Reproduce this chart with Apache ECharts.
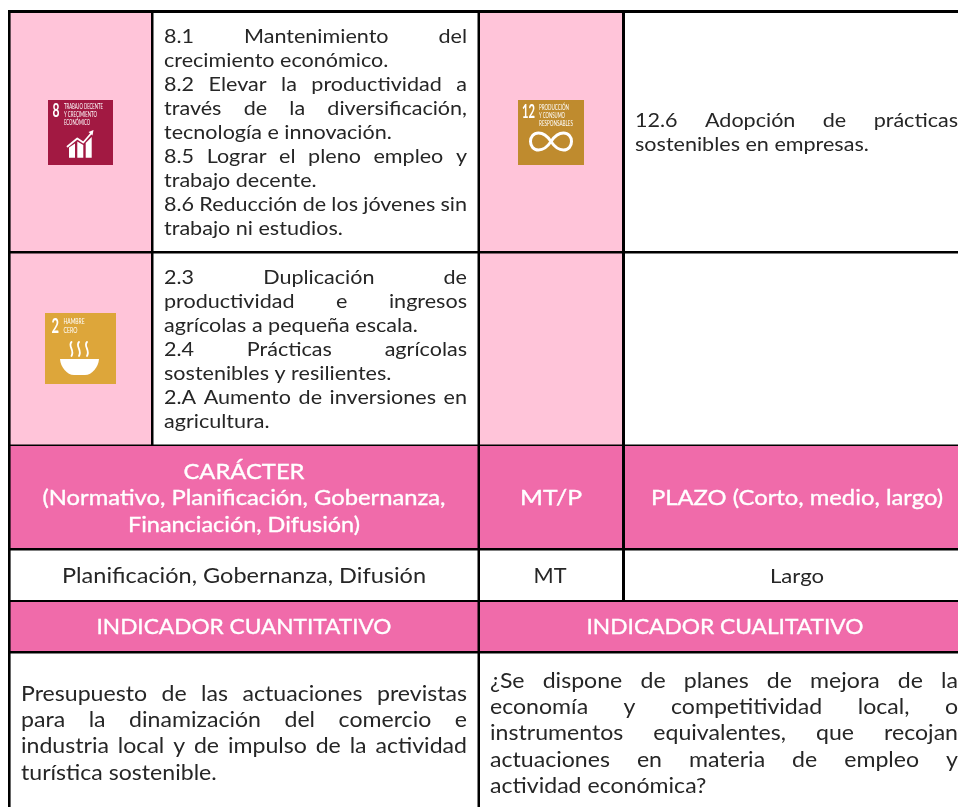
<!DOCTYPE html>
<html><head><meta charset="utf-8">
<script src="https://cdn.jsdelivr.net/npm/echarts@6/dist/echarts.min.js"></script>
<style>html,body{margin:0;padding:0;background:#fff}#c{width:958px;height:807px}</style></head>
<body><div id="c"></div>
<script>
// ---- table content ----
const goal8Targets = ["8.1 Mantenimiento del","crecimiento económico.","8.2 Elevar la productividad a","través de la diversificación,","tecnología e innovación.","8.5 Lograr el pleno empleo y","trabajo decente.","8.6 Reducción de los jóvenes sin","trabajo ni estudios."];
const goal12Targets = ["12.6 Adopción de prácticas","sostenibles en empresas."];
const goal2Targets = ["2.3 Duplicación de","productividad e ingresos","agrícolas a pequeña escala.","2.4 Prácticas agrícolas","sostenibles y resilientes.","2.A Aumento de inversiones en","agricultura."];
const caracterHeader = ["CARÁCTER","(Normativo, Planificación, Gobernanza,","Financiación, Difusión)"];
const mtHeader = ["MT/P"];
const plazoHeader = ["PLAZO (Corto, medio, largo)"];
const caracterValue = ["Planificación, Gobernanza, Difusión"];
const mtValue = ["MT"];
const plazoValue = ["Largo"];
const cuantHeader = ["INDICADOR CUANTITATIVO"];
const cualHeader = ["INDICADOR CUALITATIVO"];
const cuantText = ["Presupuesto de las actuaciones previstas","para la dinamización del comercio e","industria local y de impulso de la actividad","turística sostenible."];
const cualText = ["¿Se dispone de planes de mejora de la","economía y competitividad local, o","instrumentos equivalentes, que recojan","actuaciones en materia de empleo y","actividad económica?"];
const ragged = new Set(["crecimiento económico.","tecnología e innovación.","trabajo decente.","trabajo ni estudios.","sostenibles en empresas.","agrícolas a pequeña escala.","sostenibles y resilientes.","agricultura.","turística sostenible.","actividad económica?"]);

// ---- styling ----
const LIGHT='#FFC4D9', DARK='#F06BAA', INK='#262626', FONT='Lato';
const GOAL_RED='#A21942', GOAL_OCHRE='#BF8B2E', GOAL_YELLOW='#DDA63A';

// cells: x0,y0,x1,y1,colour
const cells = [
 [8,10,958,807,'#000'],
 [10.6,13,151,251,LIGHT],[153.5,13,477.5,251,'#fff'],[480,13,622,251,LIGHT],[625,13,958,251,'#fff'],
 [10.6,253.5,151,444.5,LIGHT],[153.5,253.5,477.5,444.5,'#fff'],[480,253.5,622,444.5,LIGHT],[625,253.5,958,444.5,'#fff'],
 [10.6,446,477.5,548,DARK],[480,446,622,548,DARK],[625,446,958,548,DARK],
 [10.6,550.5,477.5,600,'#fff'],[480,550.5,622,600,'#fff'],[625,550.5,958,600,'#fff'],
 [10.6,602,477.5,651,DARK],[480,602,958,651,DARK],
 [10.6,653.5,477.5,807,'#fff'],[480,653.5,958,807,'#fff'],
 [48,100,113,165,GOAL_RED],[518,100,584,165,GOAL_OCHRE],[45,313,116,384,GOAL_YELLOW]
];

// text blocks: lines, left, right (justify) or centre, first y, pitch, size, colour
const blocks = [
 {lines:goal8Targets,x0:164,x1:467,y:36.8,dy:24,size:19.5,fill:INK,k:1.105},
 {lines:goal12Targets,x0:635,x1:958,y:120.8,dy:24,size:19.5,fill:INK,k:1.105},
 {lines:goal2Targets,x0:164,x1:467,y:277.8,dy:24,size:19.5,fill:INK,k:1.105},
 {lines:caracterHeader,cx:244,y:472,dy:26.5,size:21.5,fill:'#fff',fit:[121,403,232]},
 {lines:mtHeader,cx:551,y:498,dy:0,size:21.5,fill:'#fff',fit:[62]},
 {lines:plazoHeader,cx:797,y:498,dy:0,size:21.5,fill:'#fff',fit:[292]},
 {lines:caracterValue,cx:244,y:576.8,dy:0,size:20.5,fill:INK,fit:[364]},
 {lines:mtValue,cx:550,y:576.8,dy:0,size:20.5,fill:INK,fit:[33]},
 {lines:plazoValue,cx:797,y:576.8,dy:0,size:19,fill:INK,fit:[54]},
 {lines:cuantHeader,cx:244,y:627.5,dy:0,size:21.5,fill:'#fff',fit:[295]},
 {lines:cualHeader,cx:725,y:627.5,dy:0,size:21.5,fill:'#fff',fit:[277]},
 {lines:cuantText,x0:21,x1:467,y:693.8,dy:26.4,size:21,fill:INK,k:1.1},
 {lines:cualText,x0:490,x1:958,y:680.8,dy:26.4,size:21,fill:INK,k:1.1}
];

// small labels inside the goal tiles: text,x,y,size,weight,width
const tileLabels = [
 ['8',52.5,111.5,18,'bold',7],['TRABAJO DECENTE',64,107,7,'normal',39],['Y CRECIMIENTO',64,115,7,'normal',33],['ECONÓMICO',64,123,7,'normal',26],
 ['12',522,112,18,'bold',13],['PRODUCCIÓN',539,107.5,7,'normal',30],['Y CONSUMO',539,115.5,7,'normal',26],['RESPONSABLES',539,123.5,7,'normal',34],
 ['2',51.5,326,21,'bold',7.5],['HAMBRE',63.5,322,7.5,'normal',21],['CERO',63.5,330.5,7.5,'normal',14]
];
// white pictograms of the tiles (SVG paths in page units)
const tileGlyphs = [
 {fill:'#fff',path:'M69 147.5L75 143.5V157.7H69ZM77.3 141.5L83.3 145V157.7H77.3ZM85.7 143L91.7 137V157.7H85.7Z'},
 {stroke:'#fff',w:1.8,path:'M67.5 146.5L77.3 138.5L83.3 142.5L91.5 133'},
 {fill:'#fff',path:'M88.5 132L93.5 130L92.5 135.5Z'},
 {stroke:'#fff',w:3,path:'M551 141.5C546 134 542 133 538.5 133C533.5 133 530.5 137 530.5 141.5C530.5 146 533.5 150 538.5 150C544 150 548 146 551 141.5C554 137 558 133 563.5 133C568.5 133 571.5 137 571.5 141.5C571.5 146 568.5 150 563.5 150C560 150 556 149 551 141.5'},
 {fill:'#fff',path:'M60 359H99C98.5 367 92 375 85 375H74C67 375 60.5 367 60 359Z'},
 {stroke:'#fff',w:1.8,path:'M71.5 342C67.5 346 75 350 71.5 356M79 342C75 346 82.5 350 79 356M87 342C83 346 90.5 350 87 356'}
];

// ---- measuring ----
const mctx=document.createElement('canvas').getContext('2d');
function measure(t,size){mctx.font=size+'px '+FONT;return mctx.measureText(t).width;}
function fontOf(size,w){return (w||'normal')+' '+size+'px '+FONT;}

// tokens: every word of a justified line, or a whole centred line
const tokens=[];
blocks.forEach(b=>{
 b.lines.forEach((line,i)=>{
  const y=b.y+i*b.dy;
  if(b.cx!==undefined){
    const k=b.fit[i]/measure(line,b.size);
    tokens.push({t:line,x:b.cx-b.fit[i]/2,y,size:b.size,fill:b.fill,k});
    return;
  }
  const words=line.split(' ');
  const ws=words.map(w=>measure(w,b.size)*b.k);
  const spaceW=measure(' ',b.size)*b.k;
  const gap=ragged.has(line)?spaceW:(b.x1-b.x0-ws.reduce((a,c)=>a+c,0))/(words.length-1);
  let x=b.x0;
  words.forEach((w,j)=>{tokens.push({t:w,x,y,size:b.size,fill:b.fill,k:b.k});x+=ws[j]+gap;});
 });
});

const chart=echarts.init(document.getElementById('c'),null,{renderer:'canvas'});
chart.setOption({
 animation:false,
 grid:{left:0,right:0,top:0,bottom:0},
 xAxis:{type:'value',min:0,max:958,show:false},
 yAxis:{type:'value',min:0,max:807,inverse:true,show:false},
 series:[
  {type:'custom',coordinateSystem:'cartesian2d',silent:true,clip:false,
   encode:{x:0,y:1},data:cells.map(c=>[c[0],c[1],c[2],c[3]]),
   renderItem(p,api){
    const a=api.coord([api.value(0),api.value(1)]),b=api.coord([api.value(2),api.value(3)]);
    return {type:'rect',shape:{x:a[0],y:a[1],width:b[0]-a[0],height:b[1]-a[1]},style:{fill:cells[p.dataIndex][4]}};
   }},
  {type:'custom',coordinateSystem:'cartesian2d',silent:true,clip:false,z:3,
   encode:{x:0,y:1},data:tileGlyphs.map(()=>[0,0]),
   renderItem(p,api){
    const g=tileGlyphs[p.dataIndex];
    return {type:'path',shape:{pathData:g.path},style:{fill:g.fill||'none',stroke:g.stroke||'none',lineWidth:g.w||0,lineCap:'round',lineJoin:'round'}};
   }},
  {type:'custom',coordinateSystem:'cartesian2d',silent:true,clip:false,z:4,
   encode:{x:0,y:1},data:tileLabels.map(l=>[l[1],l[2]]),
   renderItem(p,api){
    const l=tileLabels[p.dataIndex],a=api.coord([api.value(0),api.value(1)]);
    mctx.font=fontOf(l[3],l[4]);
    const k=l[5]/mctx.measureText(l[0]).width;
    return {type:'text',x:a[0],y:a[1],scaleX:k,style:{text:l[0],x:0,y:0,font:fontOf(l[3],l[4]),fill:'#fff',textAlign:'left',textVerticalAlign:'middle'}};
   }},
  {type:'custom',coordinateSystem:'cartesian2d',silent:true,clip:false,z:5,
   encode:{x:0,y:1},data:tokens.map(t=>[t.x,t.y]),
   renderItem(p,api){
    const t=tokens[p.dataIndex],a=api.coord([api.value(0),api.value(1)]);
    const white=t.fill==='#fff';
    return {type:'text',x:a[0],y:a[1],scaleX:t.k,style:{text:t.t,x:0,y:0,font:fontOf(t.size),fill:t.fill,stroke:white?'#fff':'none',lineWidth:white?0.35:0,textAlign:'left',textVerticalAlign:'middle'}};
   }}
 ]
});
</script></body></html>
